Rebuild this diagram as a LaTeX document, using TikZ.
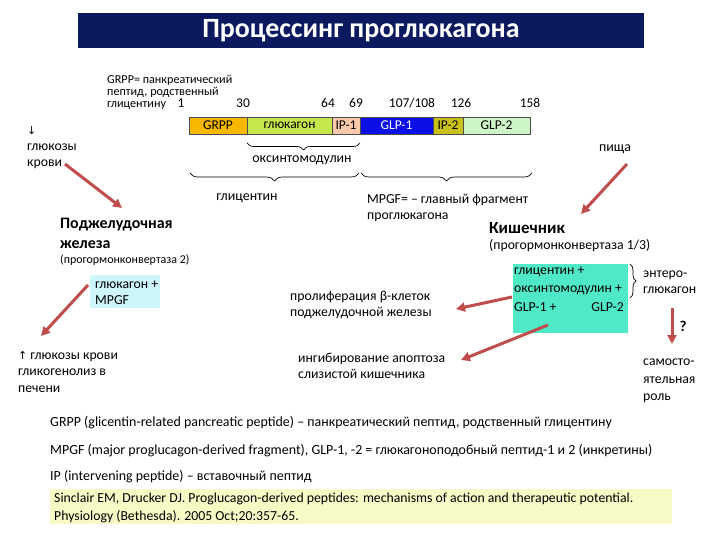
\documentclass[tikz,border=0pt]{standalone}
\usepackage{fontspec}
\setmainfont{Carlito}
\usetikzlibrary{decorations.pathreplacing,arrows.meta}
\definecolor{navy}{HTML}{0B1A5E}
\definecolor{cgrpp}{HTML}{F6B800}
\definecolor{cgluc}{HTML}{C6E84C}
\definecolor{cipone}{HTML}{F9C9A9}
\definecolor{cglpone}{HTML}{0A10E6}
\definecolor{ciptwo}{HTML}{C9C01A}
\definecolor{cglptwo}{HTML}{CDF5C5}
\definecolor{arr}{HTML}{BE4D4B}
\definecolor{lcyan}{HTML}{CCF6FA}
\definecolor{aqua}{HTML}{4FE9C8}
\definecolor{pyellow}{HTML}{F8FAC6}
\begin{document}
\begin{tikzpicture}[x=1bp,y=-1bp,
  lbl/.style={inner sep=0pt, anchor=west, align=left, font=\fontsize{13.8}{16.5}\selectfont},
  num/.style={inner sep=0pt, font=\fontsize{13.5}{15}\selectfont},
  seg/.style={draw=black!70, line width=0.6bp, inner sep=0pt, font=\fontsize{13.5}{15}\selectfont},
  arrw/.style={draw=arr, line width=3bp, -{Triangle[length=9bp,width=9bp]}},
  brc/.style={decorate, draw=black, line width=0.7bp},
]
\useasboundingbox (0,0) rectangle (720,540);
\fill[white] (0,0) rectangle (720,540);
% title
\node[fill=navy, minimum width=566bp, minimum height=35bp, inner sep=0pt, text=white,
  font=\fontsize{28}{30}\bfseries\selectfont] (title) at (361,30.5) {Процессинг проглюкагона};
% definition
\node[lbl, font=\fontsize{12.2}{12}\selectfont] (grppdef) at (107,92) {GRPP= панкреатический\\пептид, родственный\\глицентину};
% numbers
\node[num] (n1) at (181,103) {1};
\node[num] (n30) at (243,103) {30};
\node[num] (n64) at (328,103) {64};
\node[num] (n69) at (356,103) {69};
\node[num] (n107) at (412,103) {107/108};
\node[num] (n126) at (461,103) {126};
\node[num] (n158) at (530,103) {158};
% bar
\node[seg, fill=cgrpp, minimum width=58bp, minimum height=17bp] (s1) at (218,125.5) {GRPP};
\node[seg, fill=cgluc, minimum width=85bp, minimum height=17bp] (s2) at (289.5,125.5) {глюкагон};
\node[seg, fill=cipone, minimum width=28bp, minimum height=17bp] (s3) at (346,125.5) {IP-1};
\node[seg, fill=cglpone, text=white, minimum width=73bp, minimum height=17bp] (s4) at (396.5,125.5) {GLP-1};
\node[seg, fill=ciptwo, minimum width=30bp, minimum height=17bp] (s5) at (448,125.5) {IP-2};
\node[seg, fill=cglptwo, minimum width=67bp, minimum height=17bp] (s6) at (496.5,125.5) {GLP-2};
% braces
\draw[brc, decoration={brace, mirror, amplitude=7bp}] (247,143) -- (360,143);
\node[num, font=\fontsize{14}{15}\selectfont] (oxy) at (302,160) {оксинтомодулин};
\draw[brc, decoration={brace, mirror, amplitude=8bp}] (190,173) -- (359,173);
\node[num, font=\fontsize{14}{15}\selectfont] (glic) at (247,198) {глицентин};
\draw[brc, decoration={brace, mirror, amplitude=8bp}] (361,173) -- (532,173);
\node[lbl] (mpgfdef) at (367,208) {MPGF= – главный фрагмент\\проглюкагона};
% left side
\node[lbl, font=\fontsize{13.8}{16}\selectfont] (gluc1) at (27,148) {{\fontspec{DejaVu Sans}\fontsize{11}{16}\selectfont ↓}\\глюкозы\\крови};
\node[lbl, font=\fontsize{16}{20}\bfseries\selectfont] (panc) at (60,233) {Поджелудочная\\железа};
\node[lbl, font=\fontsize{12}{12}\selectfont] (pc2) at (60,260) {(прогормонконвертаза 2)};
\node[fill=lcyan, minimum width=70bp, minimum height=33bp, inner sep=0pt] (cbox) at (125,291.5) {};
\node[lbl] (cboxt) at (95,293) {глюкагон +\\MPGF};
\node[lbl, font=\fontsize{13.8}{17}\selectfont] (gluc2) at (18,372) {{\fontspec{DejaVu Sans}\fontsize{11}{16}\selectfont ↑} глюкозы крови\\гликогенолиз в\\печени};
% middle
\node[lbl] (prolif) at (290,305) {пролиферация β-клеток\\поджелудочной железы};
\node[lbl] (apopt) at (298,366) {ингибирование апоптоза\\слизистой кишечника};
% right side
\node[num, font=\fontsize{14}{15}\selectfont] (food) at (615,149) {пища};
\node[lbl, font=\fontsize{17}{20}\bfseries\selectfont] (gut) at (489,228) {Кишечник};
\node[lbl, font=\fontsize{13.8}{12}\selectfont] (pc13) at (489,246) {(прогормонконвертаза 1/3)};
\node[fill=aqua, minimum width=115bp, minimum height=69bp, inner sep=0pt] (abox) at (570,298.5) {};
\node[lbl] (aboxt1) at (514,272) {глицентин +};
\node[lbl] (aboxt2) at (514,290) {оксинтомодулин +};
\node[lbl] (aboxt3) at (514,307) {GLP-1 +};
\node[inner sep=0pt, anchor=east, font=\fontsize{13.8}{16}\selectfont] (aboxt4) at (624,307) {GLP-2};
\draw[brc, decoration={brace, amplitude=6bp}] (630,264) -- (630,298);
\node[lbl] (entero) at (643,282) {энтеро-\\глюкагон};
\node[inner sep=0pt, font=\fontsize{15}{15}\bfseries\selectfont] (q) at (683,326) {?};
\node[lbl, font=\fontsize{13.8}{17.5}\selectfont] (indep) at (643,381) {самосто-\\ятельная\\роль};
% arrow coordinates
\coordinate (a1s) at (65,164);
\coordinate (a1e) at (122,208);
\coordinate (a2s) at (627,164);
\coordinate (a2e) at (581,214);
\coordinate (a3s) at (88,285);
\coordinate (a3e) at (41,336);
\coordinate (a4s) at (512,297);
\coordinate (a4e) at (456,309);
\coordinate (a5s) at (548,325);
\coordinate (a5e) at (461,360);
\coordinate (a6s) at (672,308);
\coordinate (a6e) at (672,344);
\draw[arrw] (a1s) -- (a1e);
\draw[arrw] (a2s) -- (a2e);
\draw[arrw] (a3s) -- (a3e);
\draw[arrw] (a4s) -- (a4e);
\draw[arrw] (a5s) -- (a5e);
\draw[arrw] (a6s) -- (a6e);
% footnotes
\node[lbl, font=\fontsize{14}{16}\selectfont] (fn1) at (50,423) {GRPP (glicentin-related pancreatic peptide) – панкреатический пептид, родственный глицентину};
\node[lbl, font=\fontsize{14}{16}\selectfont] (fn2) at (50,451) {MPGF (major proglucagon-derived fragment), GLP-1, -2 = глюкагоноподобный пептид-1 и 2 (инкретины)};
\node[lbl, font=\fontsize{14}{16}\selectfont] (fn3) at (50,477) {IP (intervening peptide) – вставочный пептид};
\node[fill=pyellow, minimum width=622bp, minimum height=35bp, inner sep=0pt] (refbox) at (361,506) {};
\node[lbl, font=\fontsize{13.8}{18}\selectfont] (reft) at (54,508) {Sinclair EM, Drucker DJ. Proglucagon-derived peptides: mechanisms of action and therapeutic potential.\\Physiology (Bethesda). 2005 Oct;20:357-65.};
\end{tikzpicture}
\end{document}
